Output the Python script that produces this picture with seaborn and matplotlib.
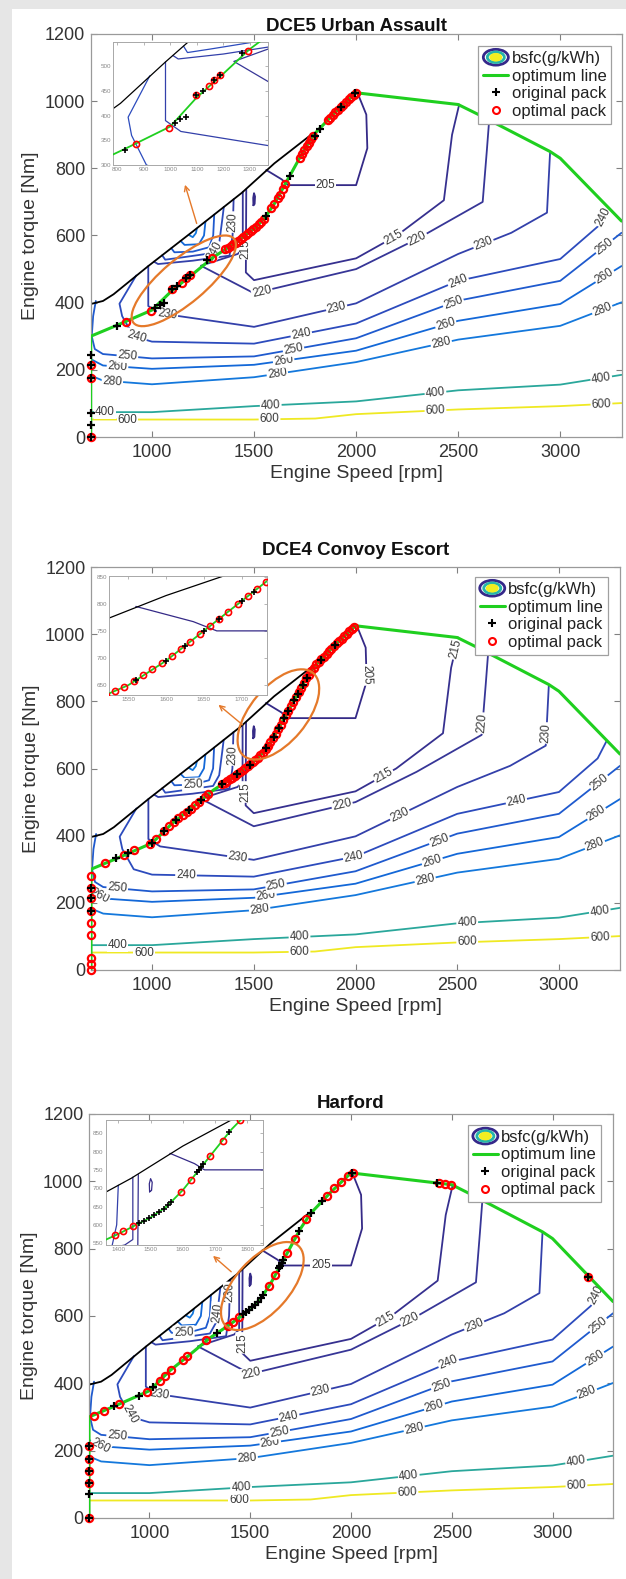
import numpy as np
import matplotlib
matplotlib.use('Agg')
import matplotlib.pyplot as plt
import seaborn as sns
from matplotlib.patches import Ellipse, Rectangle, Patch
from matplotlib.lines import Line2D
from matplotlib.legend_handler import HandlerBase
from matplotlib.transforms import IdentityTransform

sns.set_theme(style='white')
plt.rcParams['font.family'] = ['Liberation Sans', 'DejaVu Sans']

# ------------------------------------------------------------------ data
titles = ['DCE5 Urban Assault', 'DCE4 Convoy Escort', 'Harford']
x_ticks = [1000, 1500, 2000, 2500, 3000]
y_ticks = [0, 200, 400, 600, 800, 1000, 1200]

# optimum line (green) and low-speed torque limit (black)
opt_speed = [700, 700, 830, 1000, 1100, 1200, 1300, 1400, 1500, 1550, 1600, 1650, 1700, 1750,
             1800, 1900, 2000, 2500, 2600, 2950, 3000, 3300]
opt_torque = [0, 300, 333, 378, 437, 485, 535, 575, 620, 650, 695, 750, 805, 860,
              905, 968, 1025, 990, 960, 850, 830, 643]
wot_speed = [700, 760, 812, 982, 1200, 1440, 1600, 1790]
wot_torque = [396, 405, 425, 509, 612, 727, 815, 905]

# bsfc iso-lines (g/kWh)
c600_speed = [700, 1000, 1500, 1800, 2000, 2500, 3000, 3300]
c600_torque = [52, 52, 52, 55, 68, 82, 92, 101]
c400_speed = [700, 1000, 1500, 2000, 2500, 3000, 3300]
c400_torque = [74, 74, 92, 106, 139, 156, 185]
c280_speed = [700, 760, 1000, 1500, 2000, 2500, 3000, 3300]
c280_torque = [183, 168, 157, 178, 223, 290, 331, 401]
c260_speed = [700, 760, 1000, 1500, 2000, 2500, 3000, 3300]
c260_torque = [232, 213, 203, 215, 257, 346, 396, 509]
c250_speed = [725, 712, 705, 720, 760, 1000, 1500, 2000, 2500, 3000, 3300]
c250_torque = [405, 360, 300, 262, 247, 234, 240, 294, 406, 465, 608]
c240_speed = [923, 841, 854, 910, 1000, 1500, 2000, 2500, 3000, 3190, 3235]
c240_torque = [481, 397, 360, 300, 284, 278, 338, 465, 530, 630, 683]
c230_speed = [982, 982, 1040, 1500, 2000, 2500, 2760, 2935, 2950]
c230_torque = [509, 390, 368, 328, 398, 545, 608, 668, 846]
c220_speed = [1445, 1445, 1420, 1240, 1500, 2000, 2300, 2620, 2640, 2652]
c220_torque = [730, 560, 545, 510, 428, 500, 590, 700, 850, 945]
c215_speed = [1462, 1460, 1500, 2000, 2200, 2430, 2470, 2505]
c215_torque = [737, 490, 467, 532, 600, 705, 900, 990]
c205_speed = [1560, 1636, 1667, 2000, 2055, 2050, 2010]
c205_torque = [795, 767, 750, 750, 860, 960, 1020]
# crowded iso-lines next to the torque limit
f230_speed = [1010, 1030, 1200, 1380, 1395, 1400]
f230_torque = [522, 515, 525, 540, 600, 708]
f240_speed = [1050, 1065, 1150, 1300, 1330, 1345, 1352]
f240_torque = [541, 528, 535, 548, 580, 650, 685]
f250_speed = [1095, 1110, 1200, 1280, 1300, 1305]
f250_torque = [562, 550, 552, 565, 600, 662]
f260_speed = [1140, 1160, 1230, 1255, 1262]
f260_torque = [584, 572, 574, 600, 641]
f280_speed = [1180, 1200, 1215, 1220]
f280_torque = [602, 595, 607, 620]
blob_speed = [1497, 1503, 1505, 1500, 1496, 1497]
blob_torque = [690, 694, 716, 726, 712, 690]

# operating points
p1_orig_speed = [700, 700, 700, 700, 700, 700, 829, 1016, 1038, 1058, 1097, 1125, 1166, 1188,
                 1272, 1560, 1674, 1801, 1821, 1928, 1997]
p1_orig_torque = [244, 213, 176, 72, 37, 0, 330, 385, 393, 398, 441, 451, 472, 483,
                  527, 659, 777, 897, 918, 984, 1023]
p1_opt_speed = [700, 700, 700, 872, 997, 1097, 1145, 1166, 1188, 1294, 1360, 1372, 1385, 1398,
                1410, 1422, 1435, 1447, 1460, 1472, 1485, 1497, 1510, 1522, 1535, 1547, 1585,
                1600, 1615, 1625, 1640, 1654, 1723, 1735, 1745, 1758, 1770, 1780, 1791, 1860,
                1872, 1885, 1899, 1912, 1925, 1938, 1952, 1965, 1977, 1990, 1998]
p1_opt_torque = [213, 176, 0, 343, 376, 441, 460, 472, 483, 532, 559, 564, 569, 574,
                 579, 584, 590, 596, 602, 608, 614, 619, 626, 633, 641, 648, 681,
                 695, 711, 722, 739, 754, 830, 844, 855, 867, 876, 887, 897, 943,
                 951, 959, 967, 975, 982, 990, 998, 1005, 1012, 1019, 1024]

p2_orig_speed = [700, 700, 700, 821, 880, 1000, 1060, 1120, 1180, 1240, 1343, 1420, 1480, 1560,
                 1600, 1625, 1650, 1670, 1700, 1716, 1740, 1760, 1830, 1900]
p2_orig_torque = [245, 213, 175, 334, 348, 378, 413, 447, 476, 507, 553, 584, 611, 660,
                  695, 722, 750, 772, 805, 822, 849, 869, 924, 968]
p2_opt_speed = [700, 700, 700, 700, 700, 700, 700, 700, 700, 767, 861, 912, 990, 1020, 1059,
                1085, 1108, 1130, 1150, 1170, 1190, 1210, 1230, 1260, 1275,
                1345, 1358, 1370, 1382, 1395, 1408, 1420, 1432, 1445, 1458, 1470, 1482, 1495,
                1508, 1520, 1532, 1545, 1558, 1570, 1582, 1595, 1608, 1620, 1632, 1645, 1658,
                1670, 1682, 1695, 1708, 1720, 1732, 1745, 1758, 1770, 1782, 1795, 1808, 1820,
                1832, 1845, 1858, 1870, 1882, 1895, 1908, 1920, 1932, 1945, 1958, 1970, 1982, 1995]
p2_opt_torque = [280, 245, 213, 175, 140, 105, 35, 18, 0, 318, 341, 357, 375, 390, 413,
                 428, 441, 452, 461, 471, 480, 490, 500, 515, 523,
                 553, 558, 563, 568, 573, 579, 584, 589, 595, 601, 606, 612, 618,
                 625, 632, 639, 647, 657, 668, 679, 690, 704, 717, 730, 744, 759,
                 772, 785, 799, 814, 827, 840, 854, 868, 878, 889, 900, 910, 918,
                 925, 933, 941, 949, 956, 965, 973, 979, 986, 994, 1001, 1008, 1015, 1022]

p3_orig_speed = [700, 700, 700, 700, 700, 700, 822, 950, 1020, 1337, 1465, 1480, 1495, 1510,
                 1525, 1540, 1555, 1564, 1644, 1650, 1656, 1663, 1743, 1802, 1857, 2005, 2426, 3178]
p3_orig_torque = [213, 176, 140, 105, 72, 0, 333, 362, 390, 549, 605, 611, 618, 626,
                  634, 643, 654, 661, 743, 750, 757, 765, 852, 906, 941, 1026, 995, 716]
p3_opt_speed = [700, 700, 700, 700, 700, 723, 776, 851, 990, 1050, 1079, 1109, 1168, 1188,
                1283, 1390, 1416, 1446, 1594, 1624, 1683, 1723, 1778, 1881, 1917, 1950, 1985,
                2010, 2436, 2466, 2496, 3178]
p3_opt_torque = [213, 176, 140, 105, 0, 304, 318, 340, 375, 406, 423, 441, 469, 480,
                 530, 571, 582, 596, 690, 722, 787, 830, 887, 957, 979, 997, 1016,
                 1025, 994, 992, 990, 716]

# ------------------------------------------------------------------ styling helpers
lines = {
    'c600': (c600_speed, c600_torque, 600), 'c400': (c400_speed, c400_torque, 400),
    'c280': (c280_speed, c280_torque, 280), 'c260': (c260_speed, c260_torque, 260),
    'c250': (c250_speed, c250_torque, 250), 'c240': (c240_speed, c240_torque, 240),
    'c230': (c230_speed, c230_torque, 230), 'c220': (c220_speed, c220_torque, 220),
    'c215': (c215_speed, c215_torque, 215), 'c205': (c205_speed, c205_torque, 205),
    'f230': (f230_speed, f230_torque, 230), 'f240': (f240_speed, f240_torque, 240),
    'f250': (f250_speed, f250_torque, 250), 'f260': (f260_speed, f260_torque, 260),
    'f280': (f280_speed, f280_torque, 280), 'blob': (blob_speed, blob_torque, 205),
}
level_color = {205: '#352a87', 215: '#36308f', 220: '#373697', 230: '#3340aa', 240: '#2c4bbd',
               250: '#1f5ace', 260: '#1368d8', 280: '#1478dc', 400: '#2aa79b', 600: '#efe923'}

# where the inline level labels sit in each panel
labels_p1 = [
    ('c600', 880, 52), ('c600', 1576, 52), ('c600', 2389, 76), ('c600', 3202, 96),
    ('c400', 770, 74), ('c400', 1582, 92), ('c400', 2389, 130), ('c400', 3202, 170),
    ('c280', 806, 165), ('c280', 1615, 185), ('c280', 2418, 277), ('c280', 3210, 372),
    ('c260', 831, 208), ('c260', 1644, 232), ('c260', 2437, 340), ('c260', 3216, 480),
    ('c250', 880, 242), ('c250', 1693, 262), ('c250', 2477, 398), ('c250', 3227, 560),
    ('c240', 923, 297), ('c240', 1732, 304), ('c240', 2502, 460), ('c240', 3212, 655),
    ('c230', 1076, 366), ('c230', 1907, 378), ('c230', 2624, 575),
    ('c220', 1546, 414), ('c220', 2300, 590),
    ('c215', 2183, 594), ('c215', 1461, 560),
    ('c205', 1850, 750), ('f230', 1397, 640), ('f240', 1300, 556),
]
labels_p2 = [
    ('c600', 960, 52), ('c600', 1725, 52), ('c600', 2549, 84), ('c600', 3202, 96),
    ('c400', 830, 74), ('c400', 1725, 98), ('c400', 2549, 142), ('c400', 3202, 170),
    ('c280', 1529, 180), ('c280', 2343, 267), ('c280', 3176, 373),
    ('c260', 743, 222), ('c260', 1559, 224), ('c260', 2372, 335), ('c260', 3176, 474),
    ('c250', 830, 250), ('c250', 1608, 257), ('c250', 2411, 388), ('c250', 3196, 561),
    ('c240', 1167, 281), ('c240', 1990, 339), ('c240', 2784, 522),
    ('c230', 1421, 334), ('c230', 2215, 465), ('c230', 2931, 706),
    ('c220', 1941, 474), ('c220', 2627, 735),
    ('c215', 2137, 580), ('c215', 2490, 956), ('c215', 1461, 530),
    ('c205', 2058, 879), ('f250', 1200, 552), ('f230', 1397, 640),
]
labels_p3 = [
    ('c600', 1445, 52), ('c600', 2281, 67), ('c600', 3119, 92),
    ('c400', 1455, 87), ('c400', 2287, 122), ('c400', 3119, 160),
    ('c280', 1485, 176), ('c280', 2317, 256), ('c280', 3178, 360),
    ('c260', 760, 218), ('c260', 1600, 221), ('c260', 2412, 335), ('c260', 3212, 474),
    ('c250', 840, 246), ('c250', 1644, 256), ('c250', 2451, 389), ('c250', 3227, 573),
    ('c240', 891, 305), ('c240', 1693, 295), ('c240', 2485, 459), ('c240', 3215, 662),
    ('c230', 1050, 370), ('c230', 1851, 372), ('c230', 2614, 568),
    ('c220', 1515, 407), ('c220', 2297, 583),
    ('c215', 2158, 603), ('c215', 1461, 520),
    ('c205', 1851, 748), ('f240', 1338, 610), ('f250', 1170, 552), ('f230', 1398, 670),
]

GREEN = '#1fcf1f'
ORANGE = '#e5792a'


class ContourIcon(Patch):
    pass


class ContourHandler(HandlerBase):
    def create_artists(self, legend, orig_handle, xdescent, ydescent, width, height, fontsize, trans):
        cx = 0.5 * width - xdescent
        cy = 0.5 * height - ydescent
        arts = []
        for sw, sh, col, fill in [(1.0, 1.35, '#35288a', False), (0.68, 0.9, '#25b5a9', False),
                                  (0.4, 0.5, '#f2ee20', True)]:
            arts.append(Ellipse((cx, cy), width * sw, height * sh,
                                facecolor=(col if fill else 'none'), edgecolor=col,
                                lw=2.0, transform=trans))
        return arts


def draw_map(ax, label_spots=None, lw=1.3, green_lw=2.2):
    for key, (sp, tq, lev) in lines.items():
        sns.lineplot(x=sp, y=tq, ax=ax, color=level_color[lev], lw=lw, sort=False,
                     estimator=None, legend=False, zorder=2)
    sns.lineplot(x=wot_speed, y=wot_torque, ax=ax, color='black', lw=lw, sort=False,
                 estimator=None, legend=False, zorder=2.5)
    sns.lineplot(x=opt_speed, y=opt_torque, ax=ax, color=GREEN, lw=green_lw, sort=False,
                 estimator=None, legend=False, zorder=3.5)
    if not label_spots:
        return
    for key, lx, ly in label_spots:
        sp, tq, lev = lines[key]
        pts = ax.transData.transform(np.column_stack([sp, tq]))
        p = ax.transData.transform((lx, ly))
        best = None
        for i in range(len(pts) - 1):
            a, b = pts[i], pts[i + 1]
            d = b - a
            L2 = float(d @ d)
            t = 0.0 if L2 == 0 else float(np.clip((p - a) @ d / L2, 0, 1))
            q = a + t * d
            dist = float(np.hypot(*(p - q)))
            if best is None or dist < best[0]:
                best = (dist, q, d)
        _, q, d = best
        ang = np.degrees(np.arctan2(d[1], d[0]))
        if ang > 90:
            ang -= 180
        if ang < -90:
            ang += 180
        xy = ax.transData.inverted().transform(q)
        ax.text(xy[0], xy[1], str(lev), fontsize=8.5, color='#3a3a3a', rotation=ang,
                rotation_mode='anchor', ha='center', va='center', zorder=3,
                bbox=dict(boxstyle='square,pad=0.08', fc='white', ec='none'))


def draw_points(ax, orig, opt, ms_o=5.2, ms_p=6.0, mew=1.6, clip=True):
    ax.plot(opt[0], opt[1], ls='none', marker='o', mfc='none', mec='#ff0000', ms=ms_o, mew=mew,
            zorder=4, clip_on=clip)
    ax.plot(orig[0], orig[1], ls='none', marker='+', color='black', ms=ms_p, mew=mew,
            zorder=4.5, clip_on=clip)


# ------------------------------------------------------------------ figure
fig = plt.figure(figsize=(6.26, 15.79), dpi=100)
fig.patch.set_facecolor('#e6e6e6')
fig.add_artist(Rectangle((12 / 626, 0), 1, 1 - 9 / 1579, transform=fig.transFigure,
                         fc='white', ec='none', zorder=-10))

W, H = 626.0, 1579.0


def rect(l, r, t, b):
    return [l / W, 1 - b / H, (r - l) / W, (b - t) / H]


panels = [
    dict(title=titles[0], rect=rect(90.7, 621.5, 34, 437), title_pad=2.0, labels=labels_p1,
         orig=(p1_orig_speed, p1_orig_torque), opt=(p1_opt_speed, p1_opt_torque),
         inset=rect(113.3, 268.3, 41.7, 165), ixlim=(785, 1370), iylim=(300, 550),
         ixt=[800, 900, 1000, 1100, 1200, 1300], iyt=[300, 350, 400, 450, 500],
         ell=(1156, 465, 131, 44, 40), arrow=((1223, 628), (1158, 759)), leg=(0.981, 0.970)),
    dict(title=titles[1], rect=rect(91, 620, 567, 970), title_pad=8.5, labels=labels_p2,
         orig=(p2_orig_speed, p2_orig_torque), opt=(p2_opt_speed, p2_opt_torque),
         inset=rect(109.3, 266.7, 576, 695), ixlim=(1525, 1733), iylim=(632, 851),
         ixt=[1550, 1600, 1650, 1700], iyt=[650, 700, 750, 800, 850],
         ell=(1621, 761, 108, 56, 50), arrow=((1455, 725), (1316, 795)), leg=(0.977, 0.975)),
    dict(title=titles[2], rect=rect(89, 613, 1114, 1518), title_pad=4.0, labels=labels_p3,
         orig=(p3_orig_speed, p3_orig_torque), opt=(p3_opt_speed, p3_opt_torque),
         inset=rect(105.7, 263.3, 1120, 1245), ixlim=(1361, 1849), iylim=(545, 886),
         ixt=[1400, 1500, 1600, 1700, 1800], iyt=[550, 600, 650, 700, 750, 800, 850],
         ell=(1560, 689, 108, 54, 48), arrow=((1416, 726), (1305, 784)), leg=(0.977, 0.973)),
]

for P in panels:
    ax = fig.add_axes(P['rect'])
    ax.set_facecolor('white')
    ax.set_xlim(700, 3300)
    ax.set_ylim(0, 1200)
    ax.set_autoscale_on(False)
    draw_map(ax, P['labels'])
    draw_points(ax, P['orig'], P['opt'], clip=False)
    ax.set_xlim(700, 3300)
    ax.set_ylim(0, 1200)
    ax.set_xticks(x_ticks)
    ax.set_yticks(y_ticks)
    ax.tick_params(direction='in', length=4, width=0.8, color='#808080', top=True, right=True,
                   bottom=True, left=True, labelsize=13, labelcolor='#333333')
    ax.tick_params(axis='x', pad=5)
    ax.tick_params(axis='y', pad=4)
    for s in ax.spines.values():
        s.set_color('#9a9a9a')
        s.set_linewidth(0.9)
    ax.set_xlabel('Engine Speed [rpm]', fontsize=14, color='#333333', labelpad=3)
    ax.set_ylabel('Engine torque [Nm]', fontsize=14, color='#333333', labelpad=4)
    ax.set_title(P['title'], fontsize=13.5, fontweight='bold', color='#111111', pad=P['title_pad'])

    # orange highlight ellipse (pixel-sized, centred on a data point) and arrow
    cx, cy, ew, eh, ea = P['ell']
    c_disp = ax.transData.transform((cx, cy))
    ax.add_patch(Ellipse(c_disp, ew, eh, angle=ea, fill=False, edgecolor=ORANGE, lw=1.6,
                         transform=IdentityTransform(), zorder=6))
    (tx, ty), (hx, hy) = P['arrow']
    ax.annotate('', xy=(hx, hy), xytext=(tx, ty),
                arrowprops=dict(arrowstyle='->', color=ORANGE, lw=1.0, mutation_scale=9),
                zorder=6)

    handles = [ContourIcon(), Line2D([], [], color=GREEN, lw=2.2),
               Line2D([], [], ls='none', marker='+', color='black', ms=6, mew=1.5),
               Line2D([], [], ls='none', marker='o', mfc='none', mec='#ff0000', ms=5, mew=1.5)]
    leg = ax.legend(handles, ['bsfc(g/kWh)', 'optimum line', 'original pack', 'optimal pack'],
                    handler_map={ContourIcon: ContourHandler()}, loc='upper right',
                    bbox_to_anchor=P['leg'], borderaxespad=0, fontsize=12, frameon=True,
                    fancybox=False, edgecolor='#a0a0a0', framealpha=1, handlelength=1.5,
                    handletextpad=0.2, borderpad=0.3, labelspacing=0.15)
    leg.get_frame().set_linewidth(0.9)
    leg.set_zorder(10)
    for t in leg.get_texts():
        t.set_color('#222222')

    # zoomed inset
    ai = fig.add_axes(P['inset'])
    ai.set_facecolor('white')
    ai.set_xlim(*P['ixlim'])
    ai.set_ylim(*P['iylim'])
    ai.set_autoscale_on(False)
    draw_map(ai, None, lw=0.9, green_lw=1.3)
    draw_points(ai, P['orig'], P['opt'], ms_o=4.4, ms_p=4.5, mew=1.2)
    ai.set_xlim(*P['ixlim'])
    ai.set_ylim(*P['iylim'])
    ai.set_xticks(P['ixt'])
    ai.set_yticks(P['iyt'])
    ai.set_xlabel('')
    ai.set_ylabel('')
    ai.tick_params(direction='in', length=2, width=0.5, color='#999999', top=True, right=True,
                   labelsize=4.5, labelcolor='#888888', pad=1.5)
    for s in ai.spines.values():
        s.set_color('#a8a8a8')
        s.set_linewidth(0.7)

fig.savefig('out.png', dpi=100, facecolor=fig.get_facecolor())
